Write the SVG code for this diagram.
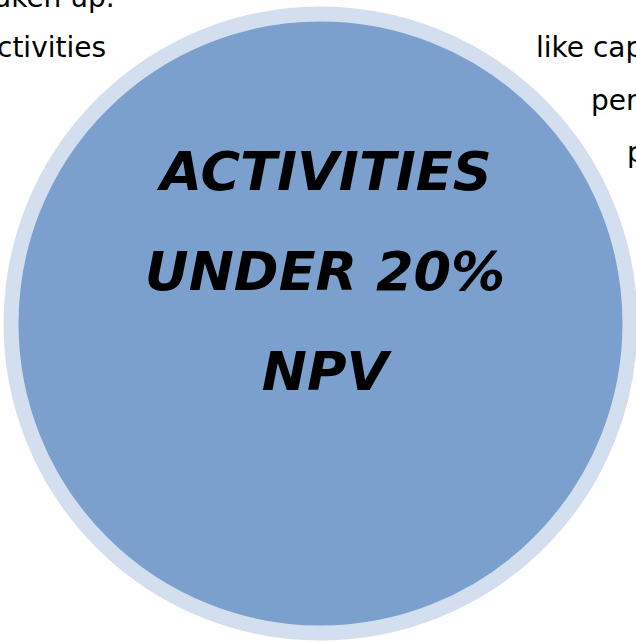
<svg xmlns="http://www.w3.org/2000/svg" width="636" height="642" viewBox="0 0 636 642">
<style>
.side{font-family:"DejaVu Sans","Liberation Sans",sans-serif;font-size:28px;fill:#000}
.main{font-family:"DejaVu Sans","Liberation Sans",sans-serif;font-size:54px;font-weight:bold;font-style:italic;fill:#000;text-anchor:middle}
</style>
<rect width="636" height="642" fill="#fff"/>
<g id="side-text">
<text class="side" x="-6" y="7">aken up.</text>
<text class="side" x="-3" y="57">ctivities</text>
<text class="side" x="536" y="57">like cap</text>
<text class="side" x="591" y="110">per</text>
<text class="side" x="627" y="162">p</text>
</g>
<g id="circle-node">
<circle cx="320.5" cy="323.5" r="309.5" fill="#7BA0CD" stroke="#D3DEEF" stroke-width="15"/>
<text class="main" x="326" y="190">ACTIVITIES</text>
<text class="main" x="325" y="290">UNDER 20%</text>
<text class="main" x="325" y="390">NPV</text>
</g>
<g id="connectors"/>
</svg>
